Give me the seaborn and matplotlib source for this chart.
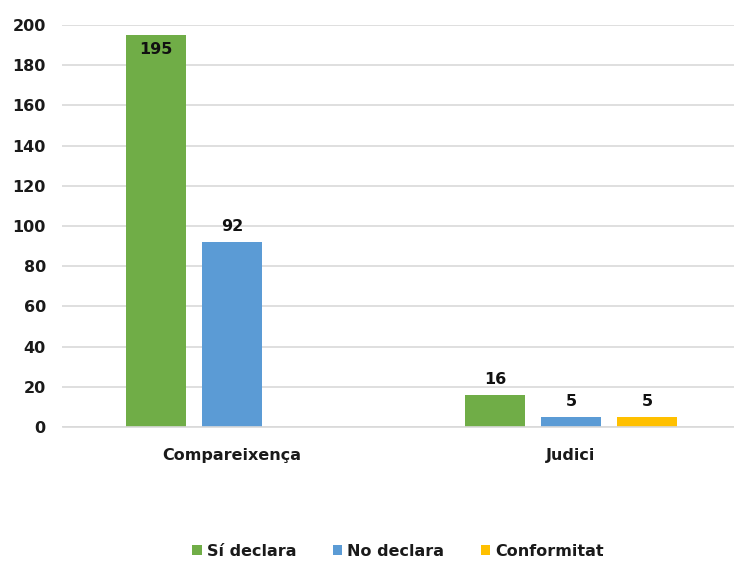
import matplotlib
matplotlib.use("Agg")
import matplotlib.pyplot as plt
import seaborn as sns
import pandas as pd
from matplotlib.patches import Patch

categories = ["Compareixença", "Judici"]
series = ["Sí declara", "No declara", "Conformitat"]
si_declara = [195, 16]
no_declara = [92, 5]
conformitat = [0, 5]
yticks = [0, 20, 40, 60, 80, 100, 120, 140, 160, 180, 200]
colors = ["#70AD47", "#5B9BD5", "#FFC000"]

rows = []
for s, vals in zip(series, [si_declara, no_declara, conformitat]):
    for c, v in zip(categories, vals):
        rows.append({"cat": c, "serie": s, "val": v})
df = pd.DataFrame(rows)

sns.set_theme(style="white")
plt.rcParams["font.family"] = ["DejaVu Sans"]
plt.rcParams["font.weight"] = "bold"

FS = 11.5
TXT = "#1a1a1a"

fig = plt.figure(figsize=(7.34, 5.61), dpi=100)
ax = fig.add_axes([62.5 / 734, 134 / 561, (734 - 62.5) / 734, 402 / 561])

sns.barplot(data=df, x="cat", y="val", hue="serie", hue_order=series,
            palette=colors, width=0.673, gap=0.22, ax=ax, legend=False,
            saturation=1, edgecolor="none")

ax.set_ylim(0, 200)
ax.set_xlim(-0.5, 1.481)
ax.set_yticks(yticks)
ax.set_yticklabels([str(t) for t in yticks], fontsize=FS, fontweight="bold", color=TXT)
ax.set_xticks(range(len(categories)))
ax.set_xticklabels(categories, fontsize=FS, fontweight="bold", color=TXT)
ax.tick_params(axis="y", length=0, pad=12)
ax.tick_params(axis="x", length=0, pad=15)
ax.set_xlabel("")
ax.set_ylabel("")
ax.yaxis.grid(True, color="#d9d9d9", linewidth=1.2)
ax.set_axisbelow(True)
for sp in ["top", "right", "left"]:
    ax.spines[sp].set_visible(False)
ax.spines["bottom"].set_color("#d9d9d9")
ax.spines["bottom"].set_linewidth(1.2)

for container in ax.containers:
    for bar in container:
        h = bar.get_height()
        if h <= 0:
            continue
        x = bar.get_x() + bar.get_width() / 2
        if h > 185:
            ax.text(x, h - 3.5, f"{int(h)}", ha="center", va="top",
                    fontsize=FS, fontweight="bold", color="#111111")
        else:
            ax.text(x, h + 4, f"{int(h)}", ha="center", va="bottom",
                    fontsize=FS, fontweight="bold", color="#111111")

handles = [Patch(facecolor=c, edgecolor="none") for c in colors]
fig.legend(handles, series, loc="center", bbox_to_anchor=(398 / 734, 1 - 551 / 561),
           ncol=3, frameon=False, handlelength=0.6, handleheight=0.6,
           handletextpad=0.3, columnspacing=2.3,
           prop={"size": FS, "weight": "bold"}, labelcolor=TXT)

fig.savefig("out.png", dpi=100)
